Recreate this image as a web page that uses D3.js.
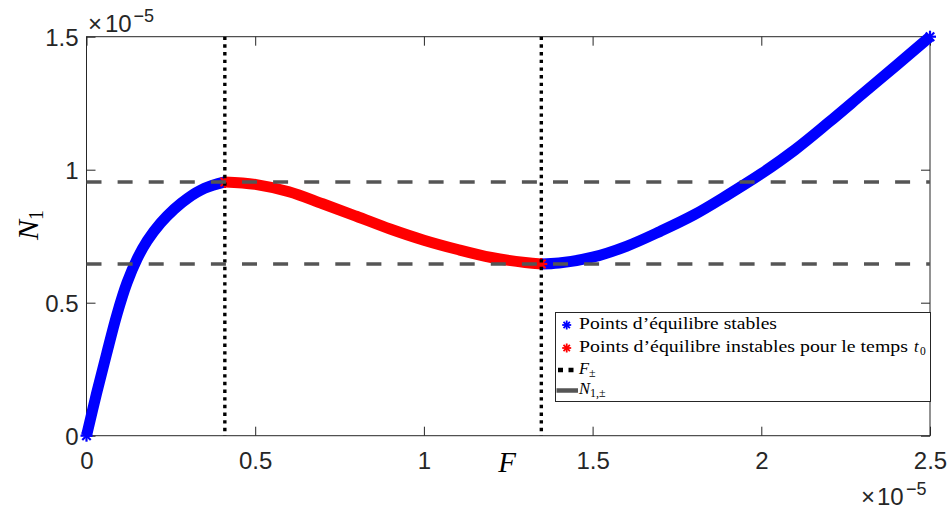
<!DOCTYPE html>
<html><head><meta charset="utf-8">
<script src="https://cdn.jsdelivr.net/npm/d3@7"></script>
<style>body{margin:0;background:#fff}svg{display:block}</style>
</head><body>
<svg id="c" width="952" height="513"></svg>
<script>
// Data (units of 1e-5)
const stableLowF  = [0, 0.03, 0.06, 0.09, 0.12, 0.15, 0.18, 0.22, 0.26, 0.3, 0.35, 0.41];
const stableLowN  = [0, 0.16, 0.31, 0.455, 0.575, 0.665, 0.733, 0.8, 0.852, 0.893, 0.93, 0.954];
const unstableF   = [0.41, 0.5, 0.6, 0.7, 0.8, 0.9, 1.0, 1.1, 1.2, 1.3, 1.348];
const unstableN   = [0.954, 0.945, 0.917, 0.872, 0.825, 0.777, 0.735, 0.700, 0.670, 0.651, 0.6455];
const stableHighF = [1.348, 1.4, 1.5, 1.6, 1.7, 1.8, 1.9, 2.0, 2.1, 2.2, 2.3, 2.4, 2.5];
const stableHighN = [0.6455, 0.649, 0.671, 0.712, 0.768, 0.83, 0.905, 0.985, 1.075, 1.178, 1.285, 1.392, 1.5];
const Fpm = [0.41, 1.348];
const N1pm = [0.954, 0.6455];
const xTicks = [0, 0.5, 1, 1.5, 2, 2.5];
const xTickLabels = ["0", "0.5", "1", "1.5", "2", "2.5"];
const yTicks = [0, 0.5, 1, 1.5];
const yTickLabels = ["0", "0.5", "1", "1.5"];

const svg = d3.select('#c');
const L = 86.5, R = 930, T = 36.7, B = 435.7;
const x = d3.scaleLinear().domain([0, 2.5]).range([L, R]);
const y = d3.scaleLinear().domain([0, 1.5]).range([B, T]);
const axisCol = '#262626';
const sans = '"Liberation Sans", Arial, Helvetica, sans-serif';
const serif = '"Liberation Serif", "Times New Roman", serif';

// Box
svg.append('rect').attr('x', L).attr('y', T).attr('width', R - L).attr('height', B - T)
  .attr('fill', 'none').attr('stroke', axisCol).attr('stroke-width', 1);

function styleAxis(g) {
  g.select('.domain').remove();
  g.selectAll('line').attr('stroke', axisCol).attr('stroke-width', 1);
  g.selectAll('text').attr('fill', axisCol).style('font-family', sans).style('font-size', '24px');
}
svg.append('g').attr('transform', `translate(0,${B})`)
  .call(d3.axisBottom(x).tickValues(xTicks).tickSizeInner(-9).tickSizeOuter(0).tickPadding(16)
    .tickFormat((d, i) => xTickLabels[i]))
  .call(styleAxis);
svg.append('g').attr('transform', `translate(0,${T})`)
  .call(d3.axisTop(x).tickValues(xTicks).tickSizeInner(-9).tickSizeOuter(0).tickFormat(''))
  .call(styleAxis);
svg.append('g').attr('transform', `translate(${L},0)`)
  .call(d3.axisLeft(y).tickValues(yTicks).tickSizeInner(-9).tickSizeOuter(0).tickPadding(8)
    .tickFormat((d, i) => yTickLabels[i]))
  .call(styleAxis)
  .selectAll('text').attr('dy', '0.38em');
svg.append('g').attr('transform', `translate(${R},0)`)
  .call(d3.axisRight(y).tickValues(yTicks).tickSizeInner(-9).tickSizeOuter(0).tickFormat(''))
  .call(styleAxis);

// Exponent labels
function expo(xTimes, xTen, xExp, yb) {
  const g = svg.append('g').attr('fill', axisCol).style('font-family', sans);
  g.append('text').attr('x', xTimes).attr('y', yb).style('font-size', '24px').text('×');
  g.append('text').attr('x', xTen).attr('y', yb).style('font-size', '24px').text('10');
  g.append('text').attr('x', xExp).attr('y', yb - 10).style('font-size', '18px').text('−5');
}
expo(88, 105, 133.5, 31.5);
expo(861, 877, 906, 505);

// Curves
const line = d3.line().x(d => x(d[0])).y(d => y(d[1])).curve(d3.curveCatmullRom.alpha(0.5));
const seg = (F, N) => F.map((f, i) => [f, N[i]]);
function asterisk(cx, cy, r, col, w) {
  const g = svg.append('g').attr('transform', `translate(${cx},${cy})`);
  [0, 45, 90, 135].forEach(a => {
    const rad = a * Math.PI / 180;
    g.append('line').attr('x1', -r * Math.cos(rad)).attr('y1', -r * Math.sin(rad))
      .attr('x2', r * Math.cos(rad)).attr('y2', r * Math.sin(rad))
      .attr('stroke', col).attr('stroke-width', w);
  });
}
function drawSeg(F, N, col) {
  svg.append('path').datum(seg(F, N)).attr('d', line).attr('fill', 'none')
    .attr('stroke', col).attr('stroke-width', 11).attr('stroke-linejoin', 'round');
  [0, F.length - 1].forEach(i => asterisk(x(F[i]), y(N[i]), 6, col, 2.2));
}
drawSeg(stableLowF, stableLowN, '#0000ff');
drawSeg(stableHighF, stableHighN, '#0000ff');
drawSeg(unstableF, unstableN, '#ff0000');

// F± dotted lines
svg.selectAll('line.fpm').data(Fpm).enter().append('line').attr('class', 'fpm')
  .attr('x1', d => x(d)).attr('x2', d => x(d)).attr('y1', y(1.5)).attr('y2', y(0))
  .attr('stroke', '#000').attr('stroke-width', 3.4).attr('stroke-dasharray', '3.4,4.27');

// N1± dashed lines
svg.selectAll('line.npm').data(N1pm).enter().append('line').attr('class', 'npm')
  .attr('x1', x(0)).attr('x2', x(2.5)).attr('y1', d => y(d)).attr('y2', d => y(d))
  .attr('stroke', '#555555').attr('stroke-width', 3.4).attr('stroke-dasharray', '15,16.1');

// Axis labels
svg.append('text').attr('x', 507).attr('y', 472).attr('text-anchor', 'middle')
  .style('font-family', serif).style('font-style', 'italic').style('font-size', '29px').text('F');
const yl = svg.append('text').attr('transform', 'translate(38,225) rotate(-90)').attr('text-anchor', 'middle')
  .style('font-family', serif).style('font-size', '30px');
yl.append('tspan').style('font-style', 'italic').text('N');
yl.append('tspan').attr('dy', 5).style('font-size', '20px').text('1');

// Legend
const lg = svg.append('g');
lg.append('rect').attr('x', 555.5).attr('y', 312.5).attr('width', 375).attr('height', 89)
  .attr('fill', '#fff').attr('stroke', axisCol).attr('stroke-width', 1);
asterisk(566.7, 325, 4.5, '#0000ff', 1.8);
asterisk(566.7, 348, 4.5, '#ff0000', 1.8);
lg.append('text').attr('x', 579).attr('y', 328.5).attr('textLength', 198).attr('lengthAdjust', 'spacingAndGlyphs')
  .attr('font-family', serif).attr('font-size', 16.5).text('Points d’équilibre stables');
lg.append('text').attr('x', 579).attr('y', 351.7).attr('textLength', 329).attr('lengthAdjust', 'spacingAndGlyphs')
  .attr('font-family', serif).attr('font-size', 16.5).text('Points d’équilibre instables pour le temps');
lg.append('text').attr('x', 914).attr('y', 351.7).attr('font-family', serif).attr('font-style', 'italic')
  .attr('font-size', 16.5).text('t');
lg.append('text').attr('x', 920).attr('y', 354.5).attr('font-family', serif)
  .attr('font-size', 11.5).text('0');
lg.append('line').attr('x1', 558).attr('x2', 574).attr('y1', 370).attr('y2', 370)
  .attr('stroke', '#000').attr('stroke-width', 4.5).attr('stroke-dasharray', '5,5.5');
const fl = lg.append('text').attr('x', 579).attr('y', 374).attr('font-family', serif).attr('font-size', 16.5);
fl.append('tspan').attr('font-style', 'italic').text('F');
fl.append('tspan').attr('dy', 3).attr('font-size', 12).text('±');
lg.append('line').attr('x1', 556.5).attr('x2', 578).attr('y1', 390.5).attr('y2', 390.5)
  .attr('stroke', '#555555').attr('stroke-width', 4.5);
const nl = lg.append('text').attr('x', 579).attr('y', 394).attr('font-family', serif).attr('font-size', 16.5);
nl.append('tspan').attr('font-style', 'italic').text('N');
nl.append('tspan').attr('dy', 3).attr('font-size', 12).text('1,±');
</script>
</body></html>
